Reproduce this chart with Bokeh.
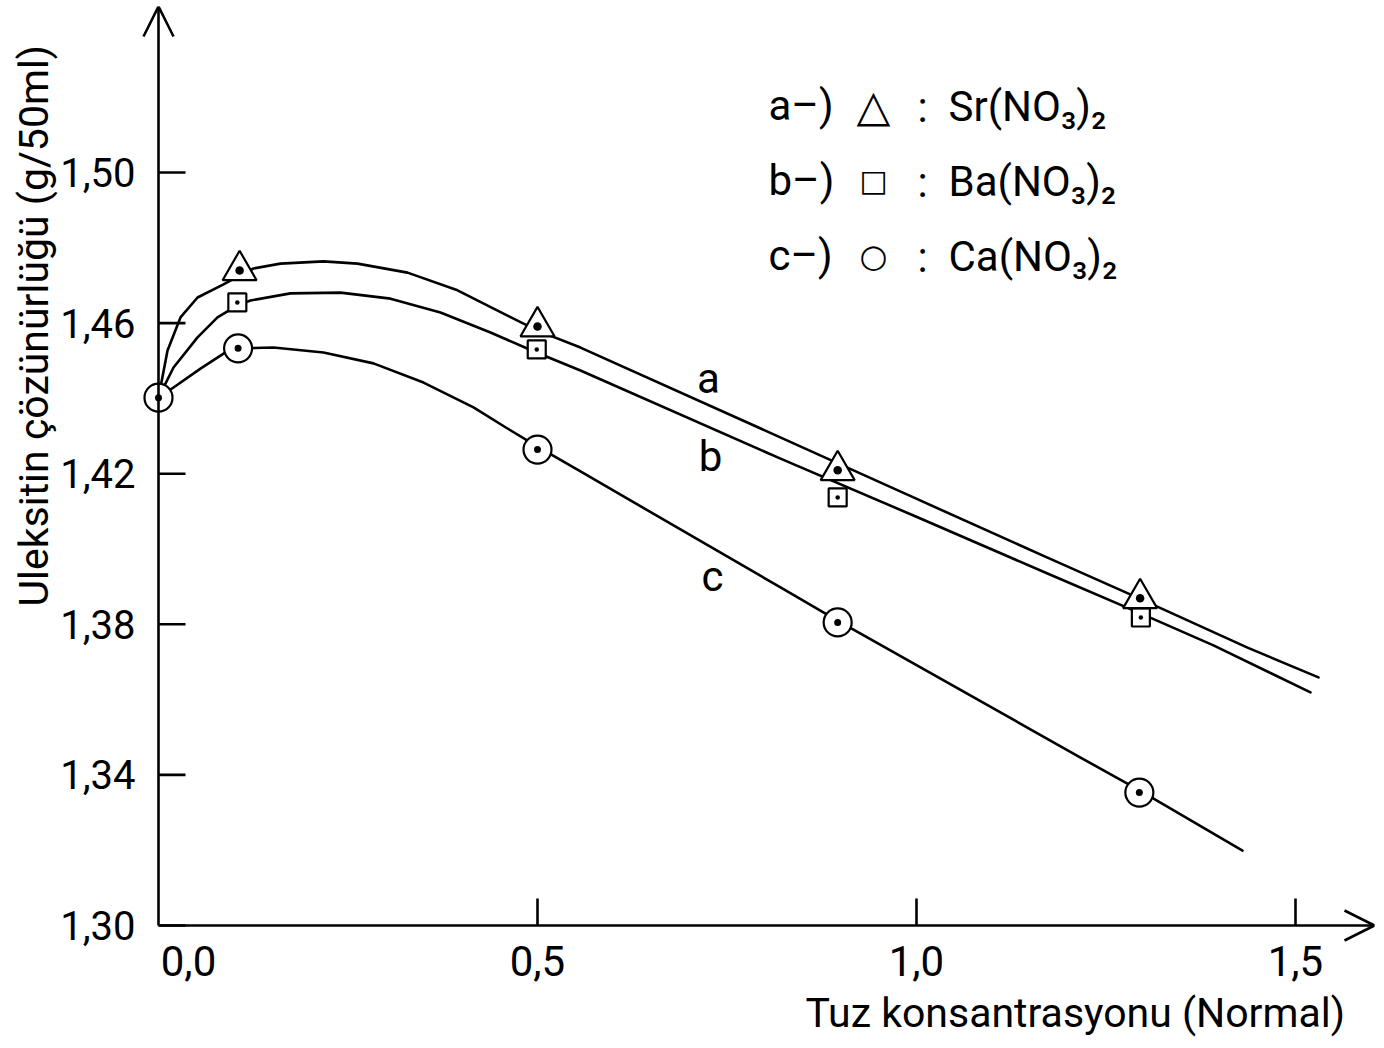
from bokeh.plotting import figure
from bokeh.models import FixedTicker, Label, Arrow, OpenHead, Range1d, Title
from bokeh.embed import file_html
from bokeh.resources import INLINE

# ---------------- data ----------------
# measured points
x_a = [0.107, 0.500, 0.896, 1.295]
y_a = [1.4740, 1.4591, 1.4209, 1.3869]
x_b = [0.104, 0.499, 0.896, 1.296]
y_b = [1.4655, 1.4530, 1.4137, 1.3818]
x_c = [0.0, 0.105, 0.500, 0.896, 1.294]
y_c = [1.4402, 1.4533, 1.4264, 1.3805, 1.3353]

# hand-drawn smooth curves
curve_a_x = [0.0, 0.0026, 0.0119, 0.0290, 0.0515, 0.0858, 0.1069, 0.1253, 0.1609, 0.2177,
             0.2625, 0.3285, 0.3945, 0.4604, 0.5000, 0.5567, 0.8298, 0.9960, 1.1728,
             1.2916, 1.4367, 1.5303]
curve_a_y = [1.4402, 1.4429, 1.4527, 1.4615, 1.4668, 1.4703, 1.4726, 1.4745, 1.4758, 1.4764,
             1.4758, 1.4734, 1.4687, 1.4620, 1.4580, 1.4535, 1.4288, 1.4137, 1.3977,
             1.3871, 1.3738, 1.3659]
curve_b_x = [0.0, 0.0198, 0.0515, 0.0778, 0.1042, 0.1214, 0.1741, 0.2401, 0.3061, 0.3720,
             0.4380, 0.4987, 0.5567, 0.8206, 0.9960, 1.1728, 1.2955, 1.3918, 1.5198]
curve_b_y = [1.4402, 1.4482, 1.4562, 1.4615, 1.4647, 1.4660, 1.4679, 1.4681, 1.4665, 1.4628,
             1.4575, 1.4522, 1.4474, 1.4240, 1.4089, 1.3935, 1.3829, 1.3744, 1.3619]
curve_c_x = [0.0, 0.0198, 0.0554, 0.0858, 0.1055, 0.1517, 0.2177, 0.2836, 0.3496, 0.4156,
             0.4604, 0.5000, 0.5567, 0.8206, 0.8958, 1.2164, 1.2942, 1.4301]
curve_c_y = [1.4402, 1.4429, 1.4479, 1.4519, 1.4533, 1.4535, 1.4522, 1.4493, 1.4442, 1.4376,
             1.4320, 1.4272, 1.4206, 1.3898, 1.3810, 1.3446, 1.3359, 1.3199]

curve_names = ["a", "b", "c"]
legend_keys = ["a\u2013)", "b\u2013)", "c\u2013)"]
legend_symbols = ["\u25B3", "\u25A1", "\u25CB"]
legend_salts = ["Sr(NO\u2083)\u2082", "Ba(NO\u2083)\u2082", "Ca(NO\u2083)\u2082"]

y_ticks = [1.30, 1.34, 1.38, 1.42, 1.46, 1.50]
y_tick_labels = ["1,30", "1,34", "1,38", "1,42", "1,46", "1,50"]
x_ticks = [0.5, 1.0, 1.5]
x_tick_labels = ["0,5", "1,0", "1,5"]
x_origin_label = "0,0"
x_title = "Tuz konsantrasyonu (Normal)"
y_title = "Uleksitin \u00e7\u00f6z\u00fcn\u00fcrl\u00fc\u011f\u00fc (g/50ml)"

# ---------------- layout helpers (page pixels -> data) ----------------
X0, PXU = 158.0, 758.0     # page x of x=0, pixels per unit
Y0, PYU = 925.0, 3765.0    # page y of y=1.30, pixels per unit
def px(xp):
    return (xp - X0) / PXU
def py(yp):
    return 1.30 + (Y0 - yp) / PYU

FONT = "Roboto"
SYMFONT = "DejaVu Sans"
LW = 2.6
TICK_LEN = 27

F_LEFT, F_RIGHT, F_TOP, F_BOTTOM = 141, 1374, 6, 985
W, H = 1376, 1048

p = figure(width=W, height=H, output_backend="svg", toolbar_location=None,
           x_range=Range1d(px(F_LEFT), px(F_RIGHT)), y_range=Range1d(py(F_BOTTOM), py(F_TOP)),
           min_border_left=F_LEFT, min_border_right=W - F_RIGHT,
           min_border_top=F_TOP, min_border_bottom=H - F_BOTTOM)
p.outline_line_color = None
p.grid.visible = False
p.background_fill_color = "white"
p.border_fill_color = "white"

# y axis: labels from Bokeh axis, line & ticks drawn at x = 0
yax = p.yaxis[0]
yax.ticker = FixedTicker(ticks=y_ticks)
yax.major_label_overrides = {t: l for t, l in zip(y_ticks, y_tick_labels)}
yax.axis_line_color = None
yax.major_tick_line_color = None
yax.minor_tick_line_color = None
yax.major_tick_in = 0
yax.major_tick_out = 0
yax.major_label_standoff = 6
yax.major_label_text_font = FONT
yax.major_label_text_font_size = "40px"
yax.major_label_text_color = "black"

# x axis: labels from Bokeh axis, pulled up to sit just under y = 1.30
xax = p.xaxis[0]
xax.ticker = FixedTicker(ticks=x_ticks)
xax.major_label_overrides = {t: l for t, l in zip(x_ticks, x_tick_labels)}
xax.axis_line_color = None
xax.major_tick_line_color = None
xax.minor_tick_line_color = None
xax.major_tick_in = 0
xax.major_tick_out = 0
xax.major_label_standoff = -40
xax.major_label_text_font = FONT
xax.major_label_text_font_size = "42px"
xax.major_label_text_color = "black"

# axis titles in side panels
p.add_layout(Title(text=y_title, align="left", offset=F_BOTTOM - 606, standoff=0,
                   text_font=FONT, text_font_size="41px", text_font_style="normal",
                   text_color="black"), "left")
p.add_layout(Title(text=x_title, align="left", offset=805 - F_LEFT, standoff=2,
                   text_font=FONT, text_font_size="41px", text_font_style="normal",
                   text_color="black"), "below")

# axis lines with arrow heads
p.add_layout(Arrow(end=OpenHead(size=30, line_width=LW, line_color="black"),
                   x_start=0.0, y_start=1.30, x_end=p.x_range.end, y_end=1.30,
                   line_width=LW, line_color="black"))
p.add_layout(Arrow(end=OpenHead(size=30, line_width=LW, line_color="black"),
                   x_start=0.0, y_start=1.30, x_end=0.0, y_end=p.y_range.end,
                   line_width=LW, line_color="black"))

# tick marks (inside)
p.segment(x0=[0.0] * len(y_ticks), y0=y_ticks, x1=[TICK_LEN / PXU] * len(y_ticks), y1=y_ticks,
          line_color="black", line_width=LW)
p.segment(x0=x_ticks, y0=[1.30] * len(x_ticks), x1=x_ticks,
          y1=[1.30 + TICK_LEN / PYU] * len(x_ticks), line_color="black", line_width=LW)

# curves
for cx, cy in [(curve_a_x, curve_a_y), (curve_b_x, curve_b_y), (curve_c_x, curve_c_y)]:
    p.line(cx, cy, line_color="black", line_width=LW, line_join="round", line_cap="round")

# markers
p.scatter(x_c, y_c, marker="circle_dot", size=28, line_color="black", line_width=2.2,
          fill_color="white")
p.scatter(x_b, y_b, marker="square_dot", size=18, line_color="black", line_width=2.2,
          fill_color="white")
p.scatter(x_a, y_a, marker="triangle_dot", size=34, line_color="black", line_width=2.2,
          fill_color="white")

def lab(text, xp, yp, size="42px", align="center", font=FONT, baseline="middle"):
    p.add_layout(Label(x=px(xp), y=py(yp), text=text, text_align=align,
                       text_baseline=baseline, text_font=font,
                       text_font_size=size, text_color="black"))

# origin tick label (set to the right of the y axis, as in the original)
lab(x_origin_label, 188, 945, size="42px", baseline="top")

# curve labels
for name, (xp, yp) in zip(curve_names, [(708, 378), (710, 456), (712, 576)]):
    lab(name, xp, yp, size="42px")

# legend
sym_sizes = ["44px", "30px", "32px"]
for i, yp in enumerate([105, 180, 255]):
    lab(legend_keys[i], 768, yp, size="42px", align="left")
    lab(legend_symbols[i], 873, yp, size=sym_sizes[i], font=SYMFONT)
    lab(":", 922, yp + 2, size="42px")
    lab(legend_salts[i], 948, yp + 1, size="42px", align="left")

open("out.html", "w").write(file_html(p, INLINE))
